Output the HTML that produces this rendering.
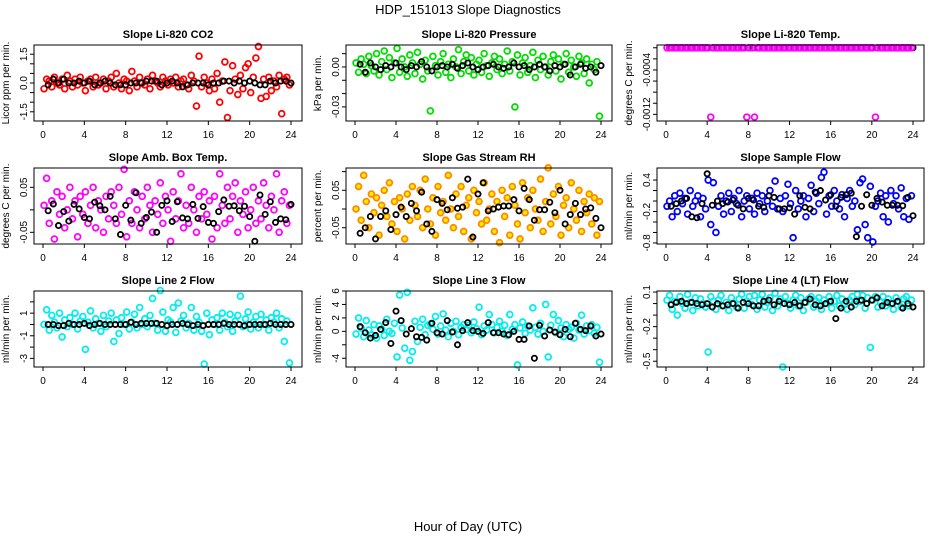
<!DOCTYPE html>
<html><head><meta charset="utf-8"><style>
html,body{margin:0;padding:0;background:#fff;}
svg{display:block;font-family:"Liberation Sans",Arial,sans-serif;}
</style></head><body>
<svg id="fig" width="936" height="540" viewBox="0 0 936 540">
<text x="468" y="14" text-anchor="middle" font-size="13">HDP_151013  Slope Diagnostics</text>
<text x="468" y="531" text-anchor="middle" font-size="13">Hour of Day (UTC)</text>
</svg>
<script>
// ---- data ----
const xTicks = [0,4,8,12,16,20,24];
const co2Color = [-0.3,0.2,0.1,-0.2,0.3,0.0,-0.1,0.2,-0.3,0.4,0.1,-0.2,0.2,-0.1,0.3,0.0,-0.4,0.1,0.2,-0.2,0.3,-0.1,0.0,0.2,-0.3,0.1,0.3,-0.2,0.5,0.0,-0.3,0.2,0.1,-0.4,0.6,0.1,-0.2,0.3,0.0,-0.1,0.2,-0.3,0.4,0.1,0.0,-0.2,0.3,0.1,-0.1,0.2,0.0,0.3,-0.2,0.1,0.2,-0.1,-0.3,0.4,0.1,-1.2,1.4,-0.2,0.3,0.0,-0.4,0.2,-0.3,0.5,-1.0,0.1,1.1,-1.8,-0.4,0.9,0.2,-0.6,0.4,-0.3,0.8,1.0,-0.5,0.3,1.3,1.9,-0.8,0.2,-0.7,0.3,-0.4,0.1,-0.2,0.4,-1.6,0.2,0.3,-0.1];
const co2Black = [-0.1,0.2,0.0,0.2,0.0,0.0,0.1,0.0,0.1,-0.1,0.0,0.1,0.0,-0.1,-0.1,-0.1,0.0,0.0,0.0,0.1,0.1,0.1,-0.1,0.0,0.1,0.0,-0.2,-0.1,0.0,0.0,0.0,-0.1,0.0,0.0,0.1,0.1,0.0,0.1,0.0,0.1,0.0,-0.1,-0.1,0.1,0.0,0.1,0.1,0.0];
const presColor = [0.003,-0.004,0.006,0.002,-0.005,0.008,0.001,-0.003,0.01,-0.006,0.004,0.012,-0.002,0.007,-0.008,0.003,0.014,-0.004,0.006,0.0,-0.007,0.009,0.003,-0.005,0.011,0.002,-0.009,0.005,-0.003,-0.033,0.008,0.001,-0.006,0.004,0.01,-0.004,0.002,-0.008,0.006,0.0,0.013,-0.005,0.004,0.009,-0.003,0.007,-0.006,0.002,0.005,-0.004,0.01,0.001,-0.007,0.003,0.008,-0.002,0.006,-0.005,0.002,0.012,-0.003,0.004,-0.03,0.009,-0.006,0.003,0.007,-0.004,0.001,0.011,-0.008,0.005,-0.002,0.008,0.0,-0.006,0.004,0.009,-0.003,0.006,-0.009,0.002,0.01,-0.004,0.005,0.0,-0.007,0.008,0.003,-0.005,0.006,-0.012,0.002,-0.002,0.004,-0.037];
const presBlack = [0.002,-0.004,0.003,0.0,-0.002,0.001,0.0,0.003,0.0,-0.002,0.001,0.0,0.004,0.0,-0.003,0.0,0.001,0.0,0.002,-0.001,0.001,0.003,0.0,-0.002,0.0,0.001,0.002,0.0,-0.001,0.0,0.003,0.0,0.001,-0.002,0.0,0.002,0.0,-0.003,0.001,0.0,0.002,-0.006,0.0,0.002,-0.001,0.0,-0.004,0.001];
const tempColor = [0,0,0,0,0,0,0,0,0,0,0,0,0,0,0,0,0,-0.00125,0,0,0,0,0,0,0,0,0,0,0,0,0,-0.00125,0,0,-0.00125,0,0,0,0,0,0,0,0,0,0,0,0,0,0,0,0,0,0,0,0,0,0,0,0,0,0,0,0,0,0,0,0,0,0,0,0,0,0,0,0,0,0,0,0,0,0,-0.00125,0,0,0,0,0,0,0,0,0,0,0,0,0,0];
const tempBlack = [0,0,0,0,0,0,0,0,0,0,0,0,0,0,0,0,0,0,0,0,0,0,0,0,0,0,0,0,0,0,0,0,0,0,0,0,0,0,0,0,0,0,0,0,0,0,0,0];
const ambColor = [0.01,0.07,-0.03,0.02,-0.065,0.04,-0.01,0.03,-0.04,0.0,0.05,-0.02,0.02,-0.06,0.03,-0.01,0.04,-0.03,0.01,0.05,-0.04,0.02,0.0,-0.05,0.03,-0.02,0.04,0.01,-0.03,0.05,-0.01,0.09,-0.06,0.02,-0.03,0.04,0.0,-0.04,0.03,-0.02,0.05,0.01,-0.05,0.02,-0.01,0.06,-0.03,0.03,0.0,-0.07,0.04,-0.02,0.02,0.08,-0.04,0.01,-0.03,0.05,0.0,-0.05,0.03,-0.02,0.04,-0.01,0.02,-0.065,0.03,-0.04,0.08,0.01,-0.03,0.05,-0.02,0.03,0.06,-0.05,0.02,-0.01,0.04,-0.04,0.0,0.05,-0.03,0.02,-0.02,0.06,0.01,-0.04,0.03,0.0,0.08,-0.05,0.02,0.04,-0.03,0.01];
const ambBlack = [-0.002,0.013,-0.035,-0.004,-0.025,0.012,0.002,-0.017,-0.02,0.017,0.009,0.0,0.03,-0.02,-0.055,0.01,-0.023,0.038,-0.03,-0.017,-0.005,-0.05,0.01,0.02,-0.026,0.018,-0.018,-0.02,0.012,-0.019,0.007,-0.028,-0.03,-0.004,0.022,0.008,0.009,-0.002,0.008,-0.015,-0.07,0.033,-0.01,0.018,-0.028,-0.02,-0.022,0.012];
const rhColor = [0.0,0.06,-0.03,0.09,0.02,-0.05,0.04,-0.01,0.03,-0.07,0.01,0.05,-0.02,0.07,-0.04,0.02,-0.06,0.03,0.0,-0.08,0.04,-0.03,0.06,0.01,-0.02,0.05,-0.05,0.08,0.0,-0.04,0.03,-0.07,0.06,-0.01,0.02,-0.03,0.09,0.0,-0.05,0.04,-0.02,0.06,-0.06,0.01,0.03,-0.08,0.05,-0.01,0.02,-0.04,0.07,-0.03,0.0,0.04,-0.06,0.02,-0.09,0.05,-0.02,0.03,-0.07,0.06,0.01,-0.04,-0.08,0.07,-0.01,0.03,-0.05,0.05,0.0,-0.03,0.08,-0.06,0.02,0.11,-0.04,0.04,-0.02,0.06,-0.07,0.01,0.03,-0.05,0.07,0.0,-0.03,0.05,-0.06,0.02,-0.01,0.04,-0.04,0.03,-0.07,0.02];
const rhBlack = [-0.065,-0.05,-0.02,-0.08,-0.02,-0.005,-0.055,-0.015,0.005,-0.02,0.015,-0.005,0.045,-0.04,-0.06,0.025,0.015,-0.002,0.03,0.002,0.005,0.08,-0.075,0.04,0.07,-0.005,0.0,0.005,0.008,0.008,0.025,-0.005,0.055,0.025,-0.03,-0.002,-0.002,0.018,-0.01,0.05,-0.04,-0.015,0.015,-0.015,0.0,0.003,-0.025,-0.05];
const sfColor = [-0.1,0.0,-0.3,0.1,-0.2,0.15,-0.05,0.05,-0.25,0.2,-0.1,0.0,0.1,-0.3,0.05,-0.15,0.4,-0.45,0.35,-0.6,-0.1,0.1,-0.25,0.0,0.15,-0.2,0.05,-0.05,0.2,-0.3,0.0,0.1,-0.15,0.05,-0.25,0.15,-0.05,0.1,-0.2,0.0,0.2,-0.1,0.38,-0.15,0.05,-0.2,0.1,0.32,-0.05,-0.7,0.2,-0.15,0.0,0.1,-0.3,0.05,0.3,-0.2,0.15,-0.05,0.45,0.55,-0.25,0.1,-0.1,0.2,0.0,-0.15,0.12,-0.3,0.05,0.2,-0.1,0.0,-0.55,0.35,0.42,-0.45,-0.7,0.28,-0.78,-0.1,0.0,0.15,-0.3,0.1,-0.4,0.2,-0.05,0.1,-0.15,0.25,-0.3,0.05,-0.35,0.1];
const sfBlack = [-0.1,-0.05,0.0,0.05,-0.3,-0.32,-0.05,0.52,-0.08,0.0,-0.05,-0.02,0.02,-0.08,-0.15,0.05,0.02,-0.1,-0.12,0.1,0.07,-0.15,-0.15,-0.13,-0.25,0.1,-0.12,-0.15,0.17,0.2,0.02,0.12,-0.1,0.07,0.12,0.15,-0.68,-0.1,0.12,-0.08,0.05,-0.02,-0.08,-0.08,-0.08,-0.09,0.07,-0.28];
const l2Color = [0.0,1.3,-0.5,0.8,0.2,-0.3,1.0,-1.1,0.4,-0.2,0.6,0.0,1.0,-0.4,0.3,0.7,-2.2,0.2,1.2,-0.3,0.5,0.1,-0.6,0.8,-0.2,0.3,1.0,-1.5,0.4,-0.8,0.6,0.0,1.1,-0.4,0.2,0.9,-0.3,1.5,0.0,0.5,-0.2,0.8,2.3,0.1,-0.5,3.0,1.1,-0.6,0.4,0.2,1.5,-0.7,1.9,0.3,0.8,-0.3,0.1,1.5,-0.5,0.7,0.2,-0.6,-3.5,1.0,-0.9,0.4,0.0,0.6,-0.5,1.0,0.2,-0.2,0.9,-0.6,0.3,0.8,2.5,-0.2,0.5,1.1,-0.4,0.2,0.7,-0.3,0.9,0.0,0.4,-0.5,0.6,0.2,1.0,-0.3,0.5,-1.5,0.3,-3.4];
const l2Black = [0.0,0.0,-0.1,-0.1,0.1,0.0,0.0,0.1,-0.1,0.0,0.1,0.0,0.0,0.0,0.0,0.0,0.2,0.0,0.1,0.1,0.1,0.1,0.0,-0.1,0.0,0.0,0.1,0.0,-0.1,0.0,-0.1,0.0,0.0,0.0,0.1,0.0,0.0,0.0,-0.1,0.0,0.0,0.0,0.0,0.1,0.0,0.0,0.0,0.0];
const l3Color = [-0.4,2.0,0.5,-0.8,1.6,0.2,-0.5,1.0,-1.0,0.8,0.3,-0.6,1.8,0.0,-0.3,1.2,-3.8,5.4,0.5,-2.5,5.8,-4.3,-3.0,1.5,-1.5,0.6,1.8,-0.5,0.9,1.1,0.3,2.2,-0.4,0.8,2.6,0.2,-0.8,1.2,0.0,1.5,-0.5,0.6,1.0,0.3,0.9,-0.2,1.4,0.4,3.6,-0.5,0.8,0.2,2.5,1.0,-0.2,0.6,1.5,0.0,0.9,-0.6,2.5,0.3,1.0,-5.0,0.5,1.4,-0.3,0.8,0.2,3.5,0.6,-0.4,1.2,0.0,4.0,-3.8,0.9,2.5,-0.2,1.6,0.5,-0.8,1.0,0.3,0.6,-1.0,1.2,0.2,2.4,-0.4,0.8,0.1,1.0,-0.3,0.6,-4.6];
const l3Black = [0.7,-0.2,-1.0,-0.6,0.3,1.3,-1.8,3.0,1.6,-0.4,0.4,-0.8,-0.9,-1.3,1.2,-0.2,-0.4,1.6,-0.1,-2.0,0.1,1.3,0.1,0.0,-0.3,1.3,-0.2,-0.2,-0.4,-0.5,0.0,-1.2,-1.2,0.8,-4.0,0.9,-0.7,0.2,-0.1,-0.5,0.3,-0.8,1.2,0.3,0.1,0.8,-0.7,-0.4];
const l4Color = [0.03,0.07,-0.05,0.02,-0.1,0.06,0.0,-0.04,0.08,0.01,-0.06,0.05,-0.02,0.04,0.0,-0.03,-0.42,0.06,0.02,-0.05,0.03,0.07,-0.02,0.01,-0.06,0.05,0.0,-0.03,0.04,0.08,-0.04,0.02,0.06,-0.01,0.07,-0.05,0.03,0.08,-0.03,0.01,0.05,-0.06,0.09,-0.02,0.04,-0.55,0.06,0.0,-0.04,0.03,0.07,-0.02,0.05,-0.06,0.01,0.04,0.06,-0.03,0.02,0.05,-0.05,0.03,0.0,0.06,-0.04,0.02,0.07,-0.02,0.04,0.0,-0.05,0.03,0.06,-0.01,0.08,0.02,0.07,-0.04,0.05,-0.38,0.03,0.06,-0.03,0.01,0.06,-0.02,0.04,0.0,-0.05,0.05,0.02,-0.03,0.04,0.06,-0.02,0.03];
const l4Black = [-0.01,0.01,0.02,0.0,0.01,0.0,-0.01,0.0,-0.03,0.0,-0.02,-0.01,0.0,-0.04,0.01,0.0,-0.02,-0.02,0.02,0.03,-0.01,0.02,0.0,-0.01,0.01,-0.02,0.01,0.04,-0.01,-0.02,0.0,0.02,-0.13,-0.04,0.02,-0.03,0.02,0.03,0.0,0.03,0.05,-0.02,0.01,0.0,0.02,-0.04,0.0,-0.03];

const panels = [
 {name:'co2',title:'Slope Li-820 CO2',ylab:'Licor ppm per min.',col:0,row:0,dom:[-1.98,1.98],ticks:[-1.5,-1,-0.5,0,0.5,1,1.5],labels:[-1.5,0,1.5],fmt:1,c:co2Color,b:co2Black,stroke:'#ff0000',fill:'none'},
 {name:'pressure',title:'Slope Li-820 Pressure',ylab:'kPa per min.',col:1,row:0,dom:[-0.0406,0.0165],ticks:[-0.03,-0.02,-0.01,0,0.01],labels:[-0.03,0],fmt:2,c:presColor,b:presBlack,stroke:'#00dd00',fill:'none'},
 {name:'temp',title:'Slope Li-820 Temp.',ylab:'degrees C per min.',col:2,row:0,dom:[-0.00132,0.00005],ticks:[-0.0012,-0.001,-0.0008,-0.0006,-0.0004,-0.0002,0],labels:[-0.0012,-0.0004],fmt:4,c:tempColor,b:tempBlack,stroke:'#ff00ff',fill:'none',blackFirst:true},
 {name:'amb-box-temp',title:'Slope Amb. Box Temp.',ylab:'degrees C per min.',col:0,row:1,dom:[-0.076,0.093],ticks:[-0.05,0,0.05],labels:[-0.05,0.05],fmt:2,c:ambColor,b:ambBlack,stroke:'#ff00ff',fill:'none'},
 {name:'gas-stream-rh',title:'Slope Gas Stream RH',ylab:'percent per min.',col:1,row:1,dom:[-0.0936,0.1096],ticks:[-0.05,0,0.05,0.1],labels:[-0.05,0.05],fmt:2,c:rhColor,b:rhBlack,stroke:'#ff8800',fill:'#ffee00'},
 {name:'sample-flow',title:'Slope Sample Flow',ylab:'ml/min per min.',col:2,row:1,dom:[-0.82,0.63],ticks:[-0.8,-0.6,-0.4,-0.2,0,0.2,0.4],labels:[-0.8,-0.2,0.4],fmt:1,c:sfColor,b:sfBlack,stroke:'#0000ff',fill:'none'},
 {name:'line2-flow',title:'Slope Line 2 Flow',ylab:'ml/min per min.',col:0,row:2,dom:[-3.76,2.96],ticks:[-3,-2,-1,0,1,2],labels:[-3,-1,1],fmt:0,c:l2Color,b:l2Black,stroke:'#00eeee',fill:'none'},
 {name:'line3-flow',title:'Slope Line 3 Flow',ylab:'ml/min per min.',col:1,row:2,dom:[-5.3,6.0],ticks:[-4,-2,0,2,4,6],labels:[-4,0,2,4,6],fmt:0,c:l3Color,b:l3Black,stroke:'#00eeee',fill:'none'},
 {name:'line4-flow',title:'Slope Line 4 (LT) Flow',ylab:'ml/min per min.',col:2,row:2,dom:[-0.55,0.109],ticks:[-0.5,-0.4,-0.3,-0.2,-0.1,0,0.1],labels:[-0.5,-0.2,0.1],fmt:1,c:l4Color,b:l4Black,stroke:'#00eeee',fill:'none'}
];

const NS='http://www.w3.org/2000/svg';
const svg=document.getElementById('fig');
const boxL=[34,346,657], boxW=[268,266,267], boxT=[45,168,291], boxH=76;
function mk(tag,attrs,parent){const e=document.createElementNS(NS,tag);for(const k in attrs)e.setAttribute(k,attrs[k]);parent.appendChild(e);return e;}

panels.forEach(p=>{
  const L=boxL[p.col], W=boxW[p.col], T=boxT[p.row], B=T+boxH;
  const xs=h=>L+9+h*(W-20)/24;
  const ys=v=>B-(v-p.dom[0])/(p.dom[1]-p.dom[0])*boxH;
  const g=mk('g',{},svg);
  
  
  const t=mk('text',{x:L+W/2,y:T-7,'text-anchor':'middle','font-size':11,'font-weight':'bold'},g);
  t.textContent=p.title;
  
  
  const yl=mk('text',{transform:`translate(${L-25},${T+boxH/2}) rotate(-90)`,'text-anchor':'middle','font-size':10},g);
  yl.textContent=p.ylab;
  
  
  const xa=mk('g',{},g);
  
  
  mk('line',{x1:xs(0),x2:xs(24),y1:B,y2:B,stroke:'#000'},xa);
  xTicks.forEach(v=>{
    mk('line',{x1:xs(v),x2:xs(v),y1:B,y2:B+4,stroke:'#000'},xa);
    const tx=mk('text',{x:xs(v),y:B+17,'text-anchor':'middle','font-size':10},xa);
    tx.textContent=v;
  });
  const ya=mk('g',{},g);
  
  
  p.ticks.forEach(v=>{ mk('line',{x1:L-4,x2:L,y1:ys(v),y2:ys(v),stroke:'#000'},ya); });
  p.labels.forEach(v=>{
    const tx=mk('text',{transform:`translate(${L-7},${ys(v)}) rotate(-90)`,'text-anchor':'middle','font-size':10},ya);
    tx.textContent=v.toFixed(p.fmt);
  });
  const cg=mk('g',{},g);
  
  
  const bg=mk('g',{},g);
  
  
  if(p.blackFirst) g.insertBefore(bg,cg);
  p.c.forEach((v,i)=>{
    const h=i*24/p.c.length+0.1;
    const c=mk('circle',{cx:xs(h),cy:ys(v),r:2.9,fill:p.fill,stroke:p.stroke,'stroke-width':1.8},cg);
    
    
  });
  p.b.forEach((v,i)=>{
    const h=i*24/p.b.length+0.5;
    const c=mk('circle',{cx:xs(h),cy:ys(v),r:2.6,fill:'none',stroke:'#000','stroke-width':1.8},bg);
    
    
  });
  const box=mk('rect',{x:L,y:T,width:W,height:boxH,fill:'none',stroke:'#000'},g);
  
  
});
</script>
</body></html>
